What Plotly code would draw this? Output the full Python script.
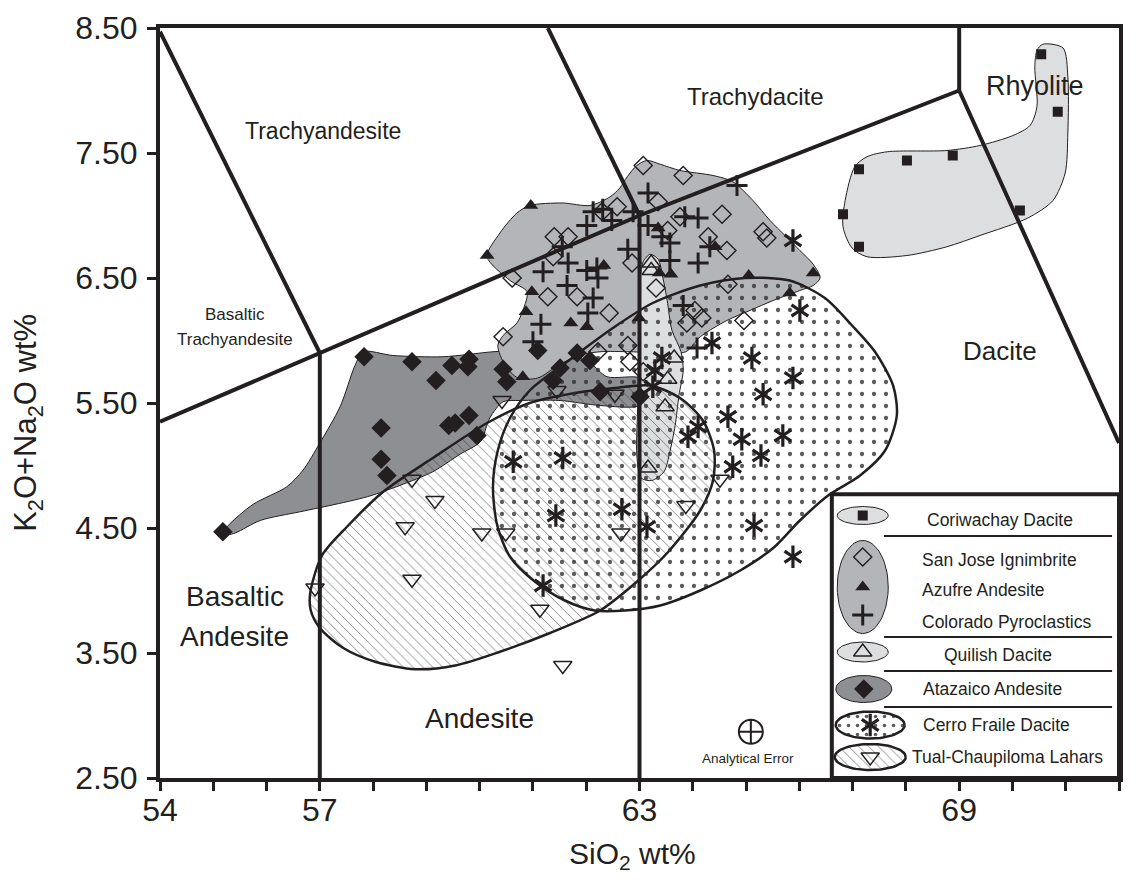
import plotly.graph_objects as go
import numpy as np

INK = '#231f20'
FONT = 'Liberation Sans, Arial, Helvetica, sans-serif'

# ---------------- sample data (SiO2 wt%, K2O+Na2O wt%) ----------------
cori_x = [70.54, 70.85, 67.12, 68.02, 68.88, 66.82, 67.12, 70.14]
cori_y = [8.29, 7.83, 7.37, 7.44, 7.48, 7.01, 6.75, 7.04]

sanjose_x = [63.07, 63.82, 63.35, 62.58, 62.30, 64.55, 61.40, 61.66, 61.38, 63.53, 64.29, 64.64,
             62.86, 61.28, 61.83, 63.31, 60.61, 62.43, 60.44, 64.04, 64.17, 63.89, 62.78, 62.22,
             64.96, 64.66, 65.32, 65.39, 63.76, 62.82, 63.07]
sanjose_y = [7.40, 7.32, 7.11, 7.07, 7.03, 7.01, 6.83, 6.83, 6.67, 6.88, 6.83, 6.72,
             6.62, 6.35, 6.35, 6.42, 6.50, 6.22, 6.03, 6.24, 6.18, 6.14, 5.96, 5.91,
             6.16, 6.45, 6.87, 6.82, 6.99, 5.83, 5.75]

azufre_x = [60.96, 60.14, 60.98, 62.33, 63.35, 63.59, 63.37, 61.71, 62.01, 60.87, 60.81,
            62.99, 64.42, 65.05, 66.26, 65.82]
azufre_y = [7.08, 6.68, 6.39, 6.60, 6.90, 6.53, 6.54, 6.14, 6.11, 6.23, 5.71,
            6.18, 6.75, 6.52, 6.54, 6.38]

colorado_x = [63.16, 62.13, 62.31, 62.48, 62.01, 62.88, 63.16, 63.42, 63.57, 63.85, 64.10,
              62.78, 63.57, 64.10, 61.55, 61.66, 61.19, 62.01, 62.20, 62.22, 61.64, 62.13,
              64.32, 63.82, 64.08, 61.00, 61.15, 62.03, 64.83]
colorado_y = [7.18, 7.03, 7.05, 6.96, 6.92, 7.03, 6.92, 6.83, 6.78, 6.99, 6.98,
              6.73, 6.64, 6.62, 6.75, 6.62, 6.55, 6.56, 6.58, 6.50, 6.44, 6.34,
              6.75, 6.28, 5.94, 5.99, 6.13, 6.22, 7.24]

quilish_x = [63.22, 63.22, 63.65, 63.53, 63.48, 63.16]
quilish_y = [6.62, 6.56, 5.86, 5.69, 5.47, 4.98]

atazaico_x = [55.18, 57.83, 58.73, 59.18, 59.48, 59.80, 59.78, 60.44, 60.51, 58.15, 58.15, 58.26,
              59.42, 59.54, 59.80, 59.95, 61.09, 61.51, 61.83, 62.07, 61.38, 62.26, 63.01]
atazaico_y = [4.47, 5.87, 5.83, 5.68, 5.80, 5.85, 5.79, 5.77, 5.67, 5.30, 5.05, 4.92,
              5.32, 5.34, 5.40, 5.24, 5.92, 5.78, 5.90, 5.84, 5.68, 5.59, 5.55]

cerro_x = [60.63, 61.56, 61.43, 62.67, 63.14, 61.19, 63.25, 63.42, 63.29, 64.36, 65.11, 66.01,
           65.88, 65.88, 65.32, 64.66, 64.10, 63.91, 64.92, 65.69, 65.28, 64.75, 65.15, 65.88]
cerro_y = [5.03, 5.06, 4.60, 4.65, 4.51, 4.04, 5.63, 5.86, 5.76, 5.98, 5.86, 6.24,
           6.80, 5.70, 5.57, 5.39, 5.31, 5.23, 5.21, 5.24, 5.08, 4.99, 4.52, 4.27]

tual_x = [60.42, 61.45, 62.54, 58.73, 59.16, 58.60, 60.04, 60.49, 58.73, 56.91, 61.13, 61.56,
          62.65, 63.87, 64.51]
tual_y = [5.52, 5.60, 5.57, 4.89, 4.72, 4.51, 4.46, 4.46, 4.09, 4.02, 3.85, 3.40,
          4.46, 4.68, 4.89]

# ---------------- outlined fields ----------------
cori_field_x = [70.57, 70.95, 71.04, 71.04, 70.99, 70.76, 70.29, 69.39, 68.77, 68.02, 67.27, 66.99,
                66.82, 66.86, 67.04, 67.27, 67.65, 68.77, 69.39, 70.01, 70.33, 70.46, 70.42, 70.46]
cori_field_y = [8.37, 8.34, 8.11, 7.66, 7.34, 7.12, 6.98, 6.84, 6.75, 6.68, 6.67, 6.74,
                6.91, 7.12, 7.39, 7.47, 7.51, 7.52, 7.56, 7.64, 7.72, 7.87, 8.19, 8.32]

big_field_x = [60.14, 60.38, 60.70, 60.94, 61.56, 62.07, 62.45, 62.63, 62.77, 62.95, 63.14, 63.39,
               63.76, 64.38, 64.75, 65.13, 65.45, 65.73, 66.01, 66.26, 66.39, 66.26, 66.01, 65.51,
               65.07, 64.64, 64.14, 63.87, 63.39, 62.82, 62.26, 61.85, 61.47, 61.09, 60.72, 60.48,
               60.34, 60.44, 60.70, 60.81, 60.89, 60.57]
big_field_y = [6.67, 6.86, 7.02, 7.08, 7.10, 7.08, 7.15, 7.22, 7.31, 7.40, 7.44, 7.41,
               7.36, 7.32, 7.27, 7.12, 6.96, 6.84, 6.72, 6.61, 6.50, 6.44, 6.40, 6.32,
               6.24, 6.16, 6.03, 5.91, 5.90, 5.91, 5.91, 5.88, 5.80, 5.70, 5.70, 5.80,
               5.96, 6.04, 6.14, 6.24, 6.39, 6.48]

ata_field_x = [55.16, 55.28, 55.75, 56.38, 56.68, 57.00, 57.38, 57.66, 57.81, 58.37, 59.31, 60.25,
               60.76, 61.51, 62.07, 62.39, 63.01, 63.16, 63.01, 62.26, 61.51, 60.76, 60.44, 60.19,
               60.01, 59.63, 59.12, 58.50, 57.89, 57.19, 56.63, 55.88, 55.41]
ata_field_y = [4.44, 4.52, 4.69, 4.83, 4.96, 5.18, 5.47, 5.80, 5.91, 5.88, 5.87, 5.91,
               5.92, 5.91, 5.82, 5.71, 5.70, 5.59, 5.48, 5.48, 5.52, 5.52, 5.51, 5.38,
               5.19, 5.09, 4.95, 4.84, 4.75, 4.68, 4.63, 4.56, 4.46]

qui_field_x = [63.07, 63.20, 63.35, 63.44, 63.52, 63.61, 63.78, 63.82, 63.74, 63.67, 63.57, 63.46,
               63.23, 63.03, 62.95, 62.97, 62.99, 63.01]
qui_field_y = [6.63, 6.69, 6.65, 6.50, 6.32, 6.08, 5.91, 5.76, 5.56, 5.32, 5.11, 4.95,
               4.88, 4.90, 5.08, 5.52, 6.08, 6.48]

tual_field_x = [56.82, 57.04, 57.51, 58.19, 59.12, 60.14, 60.94, 61.79, 62.54, 63.20, 63.76, 64.19,
                64.40, 64.38, 64.14, 63.52, 62.95, 62.26, 61.32, 60.38, 59.54, 58.79, 58.04, 57.44,
                57.00, 56.83]
tual_field_y = [3.98, 4.28, 4.51, 4.79, 5.06, 5.34, 5.50, 5.58, 5.62, 5.64, 5.54, 5.36,
                5.12, 4.88, 4.64, 4.30, 4.07, 3.84, 3.66, 3.51, 3.40, 3.37, 3.43, 3.54,
                3.70, 3.84]

cerro_field_x = [60.25, 60.34, 60.57, 60.94, 61.64, 62.50, 63.25, 64.14, 64.98, 65.82, 66.48, 66.99,
                 67.42, 67.76, 67.83, 67.61, 67.14, 66.54, 66.01, 65.51, 64.89, 64.14, 63.39, 62.73,
                 62.16, 61.60, 61.04, 60.57, 60.33]
cerro_field_y = [4.83, 5.12, 5.38, 5.60, 5.83, 6.10, 6.30, 6.44, 6.50, 6.48, 6.34, 6.12,
                 5.91, 5.64, 5.40, 5.12, 4.92, 4.76, 4.56, 4.34, 4.16, 4.00, 3.88, 3.84,
                 3.84, 3.92, 4.07, 4.27, 4.52]

# ---------------- TAS classification boundaries ----------------
bound_lines = [
    ([54.0, 57.0], [8.47, 5.9]),
    ([54.0, 57.0, 63.0, 69.0], [5.35, 5.9, 7.0, 8.0]),
    ([57.0, 57.0], [5.9, 2.5]),
    ([63.0, 63.0], [7.0, 2.5]),
    ([63.0, 61.28], [7.0, 8.5]),
    ([69.0, 69.0], [8.0, 8.5]),
    ([69.0, 72.0], [8.0, 5.18]),
]

region_labels = [
    ('Trachyandesite', 57.06, 7.68, 23),
    ('Trachydacite', 65.17, 7.95, 24),
    ('Rhyolite', 70.42, 8.04, 27),
    ('Dacite', 69.77, 5.92, 26),
    ('Basaltic', 55.40, 3.95, 28),
    ('Andesite', 55.40, 3.63, 28),
    ('Andesite', 60.00, 2.98, 28),
]
small_labels = [('Basaltic', 55.40, 6.21), ('Trachyandesite', 55.40, 6.01)]

err_x = [65.09]
err_y = [2.87]

# ---------------- figure ----------------
fig = go.Figure()


def closed(a):
    return list(a) + [a[0]]


def add_field(xs, ys, color):
    fig.add_trace(go.Scatter(x=closed(xs), y=closed(ys), mode='lines', fill='toself',
                             fillcolor=color,
                             line=dict(color=INK, width=1, shape='spline', smoothing=0.8),
                             hoverinfo='skip', showlegend=False))


def add_pattern_field(xs, ys, shape, size, solidity, lw, opac):
    fig.add_trace(go.Scatter(x=closed(xs), y=closed(ys), mode='lines', fill='toself',
                             fillcolor='rgba(0,0,0,0)',
                             fillpattern=dict(shape=shape, size=size, solidity=solidity,
                                              fgcolor='#303030', bgcolor='rgba(0,0,0,0)',
                                              fgopacity=opac),
                             line=dict(color=INK, width=lw, shape='spline', smoothing=0.8),
                             hoverinfo='skip', showlegend=False))


GRAY_MID = '#b4b5b8'
GRAY_DARK = '#8e8f92'
GRAY_LIGHT = '#dddee0'

add_field(ata_field_x, ata_field_y, GRAY_DARK)
add_field(big_field_x, big_field_y, GRAY_MID)
add_field(qui_field_x, qui_field_y, GRAY_LIGHT)
add_field(cori_field_x, cori_field_y, GRAY_LIGHT)
add_pattern_field(tual_field_x, tual_field_y, '\\', 7, 0.14, 2.5, 0.55)
add_pattern_field(cerro_field_x, cerro_field_y, '.', 12, 0.1, 2.5, 0.8)

for lx, ly in bound_lines:
    fig.add_trace(go.Scatter(x=lx, y=ly, mode='lines', line=dict(color=INK, width=4),
                             hoverinfo='skip', showlegend=False))


def add_pts(xs, ys, symbol, size, lw=1.5, color=INK):
    fig.add_trace(go.Scatter(x=xs, y=ys, mode='markers',
                             marker=dict(symbol=symbol, size=size, color=color,
                                         line=dict(color=INK, width=lw)),
                             hoverinfo='skip', showlegend=False))


add_pts(cori_x, cori_y, 'square', 10, 0)
add_pts(sanjose_x, sanjose_y, 'diamond-open', 14, 1.4)
add_pts(azufre_x, azufre_y, 'triangle-up', 13, 0)
add_pts(colorado_x, colorado_y, 'cross-thin-open', 15, 3)
add_pts(quilish_x, quilish_y, 'triangle-up-open', 16, 1.4)
add_pts(atazaico_x, atazaico_y, 'diamond', 15, 0)
add_pts(cerro_x, cerro_y, 'y-up-open', 14, 3.2)
add_pts(cerro_x, cerro_y, 'y-down-open', 14, 3.2)
add_pts(tual_x, tual_y, 'triangle-down-open', 16, 1.4)
add_pts(err_x, err_y, 'circle-cross-open', 24, 2)

# ---------------- legend (drawn in data units) ----------------
LX0, LX1, LY0, LY1 = 66.61, 72.0, 2.5, 4.77
SYM_X = 67.19
SEP_X0, SEP_X1 = 67.59, 71.87
sep_y = [4.436, 3.628, 3.356, 3.068]

leg_ellipses = [  # cx, cy, width, height, fill, lw, pattern
    (67.19, 4.600, 0.957, 0.144, GRAY_LIGHT, 1, None),
    (67.19, 4.028, 0.957, 0.744, GRAY_MID, 1, None),
    (67.19, 3.508, 0.957, 0.160, GRAY_LIGHT, 1, None),
    (67.21, 3.212, 1.050, 0.216, GRAY_DARK, 1, None),
    (67.33, 2.924, 1.295, 0.216, None, 2.5, '.'),
    (67.33, 2.668, 1.333, 0.208, None, 2.5, '\\'),
]

fig.add_trace(go.Scatter(x=[LX0, LX1, LX1, LX0, LX0], y=[LY0, LY0, LY1, LY1, LY0], mode='lines',
                         fill='toself', fillcolor='white', line=dict(color=INK, width=4),
                         hoverinfo='skip', showlegend=False))

t = np.linspace(0, 2 * np.pi, 80)
for cx, cy, w, h, fc, lw, pat in leg_ellipses:
    ex = cx + w / 2 * np.cos(t)
    ey = cy + h / 2 * np.sin(t)
    if pat is None:
        fig.add_trace(go.Scatter(x=ex, y=ey, mode='lines', fill='toself', fillcolor=fc,
                                 line=dict(color=INK, width=lw), hoverinfo='skip', showlegend=False))
    else:
        fig.add_trace(go.Scatter(x=ex, y=ey, mode='lines', fill='toself', fillcolor='white',
                                 fillpattern=dict(shape=pat, size=7 if pat == '\\' else 9,
                                                  solidity=0.14 if pat == '\\' else 0.12,
                                                  fgcolor='#303030', bgcolor='white',
                                                  fgopacity=0.55 if pat == '\\' else 0.8),
                                 line=dict(color=INK, width=lw), hoverinfo='skip', showlegend=False))

for sy in sep_y:
    fig.add_trace(go.Scatter(x=[SEP_X0, SEP_X1], y=[sy, sy], mode='lines',
                             line=dict(color=INK, width=2), hoverinfo='skip', showlegend=False))

leg_syms = [
    (SYM_X, 4.600, 'square', 10, 0),
    (SYM_X, 4.268, 'diamond-open', 14, 1.4),
    (SYM_X, 4.028, 'triangle-up', 13, 0),
    (SYM_X, 3.804, 'cross-thin-open', 15, 3),
    (SYM_X, 3.508, 'triangle-up-open', 16, 1.4),
    (67.21, 3.212, 'diamond', 15, 0),
    (67.33, 2.924, 'y-up-open', 14, 3.2),
    (67.33, 2.924, 'y-down-open', 14, 3.2),
    (67.33, 2.668, 'triangle-down-open', 16, 1.4),
]
for sx, sy, sym, sz, lw in leg_syms:
    add_pts([sx], [sy], sym, sz, lw)

leg_texts = [
    ('Coriwachay Dacite', 69.77, 4.564, 'center'),
    ('San Jose Ignimbrite', 68.26, 4.244, 'left'),
    ('Azufre Andesite', 68.26, 4.004, 'left'),
    ('Colorado Pyroclastics', 68.26, 3.748, 'left'),
    ('Quilish Dacite', 69.73, 3.484, 'center'),
    ('Atazaico Andesite', 69.63, 3.212, 'center'),
    ('Cerro Fraile Dacite', 69.71, 2.924, 'center'),
    ('Tual-Chaupiloma Lahars', 69.90, 2.668, 'center'),
]
annotations = []
for txt, x, y, al in leg_texts:
    annotations.append(dict(x=x, y=y, xref='x', yref='y', text=txt, showarrow=False,
                            xanchor=al, yanchor='middle', font=dict(family=FONT, size=17.5, color=INK)))

for txt, x, y, fs in region_labels:
    annotations.append(dict(x=x, y=y, xref='x', yref='y', text=txt, showarrow=False,
                            xanchor='center', yanchor='middle', font=dict(family=FONT, size=fs, color=INK)))
for txt, x, y in small_labels:
    annotations.append(dict(x=x, y=y, xref='x', yref='y', text=txt, showarrow=False,
                            xanchor='center', yanchor='middle', font=dict(family=FONT, size=17, color=INK)))
annotations.append(dict(x=65.04, y=2.66, xref='x', yref='y', text='Analytical Error', showarrow=False,
                        xanchor='center', yanchor='middle', font=dict(family=FONT, size=13.5, color=INK)))

# axis titles
annotations.append(dict(x=0.493, y=-0.103, xref='paper', yref='paper', text='SiO<sub>2</sub> wt%',
                        showarrow=False, xanchor='center', yanchor='middle',
                        font=dict(family=FONT, size=30, color=INK)))
annotations.append(dict(x=-0.137, y=0.473, xref='paper', yref='paper',
                        text='K<sub>2</sub>O+Na<sub>2</sub>O wt%', textangle=-90,
                        showarrow=False, xanchor='center', yanchor='middle',
                        font=dict(family=FONT, size=31, color=INK)))

x_major = [54, 57, 63, 69, 72]
x_minor = [55, 56, 58, 59, 60, 61, 62, 64, 65, 66, 67, 68, 70, 71]
y_major = [2.5, 3.5, 4.5, 5.5, 6.5, 7.5, 8.5]

# the page body adds an 8 px margin, so the figure is 16 px smaller than the window
fig.update_layout(
    width=1121, height=867,
    margin=dict(l=152, r=10, t=20, b=97, autoexpand=False),
    paper_bgcolor='white', plot_bgcolor='white',
    showlegend=False,
    annotations=annotations,
    font=dict(family=FONT, color=INK),
    xaxis=dict(range=[54, 72], showgrid=False, zeroline=False, showline=True, linewidth=4,
               linecolor=INK, mirror=True, ticks='outside', ticklen=9, tickwidth=3, tickcolor=INK,
               tickvals=x_major, ticktext=[str(v) for v in x_major], automargin=False,
               tickfont=dict(family=FONT, size=32, color=INK), ticklabelstandoff=-8,
               minor=dict(tickvals=x_minor, ticks='outside', ticklen=9, tickwidth=3, tickcolor=INK)),
    yaxis=dict(range=[2.5, 8.5], showgrid=False, zeroline=False, showline=True, linewidth=4,
               linecolor=INK, mirror=True, ticks='outside', ticklen=9, tickwidth=3, tickcolor=INK,
               tickvals=y_major, ticktext=['%.2f' % v for v in y_major], automargin=False,
               tickfont=dict(family=FONT, size=32, color=INK), ticklabelstandoff=3),
)

fig.write_html('out.html')
